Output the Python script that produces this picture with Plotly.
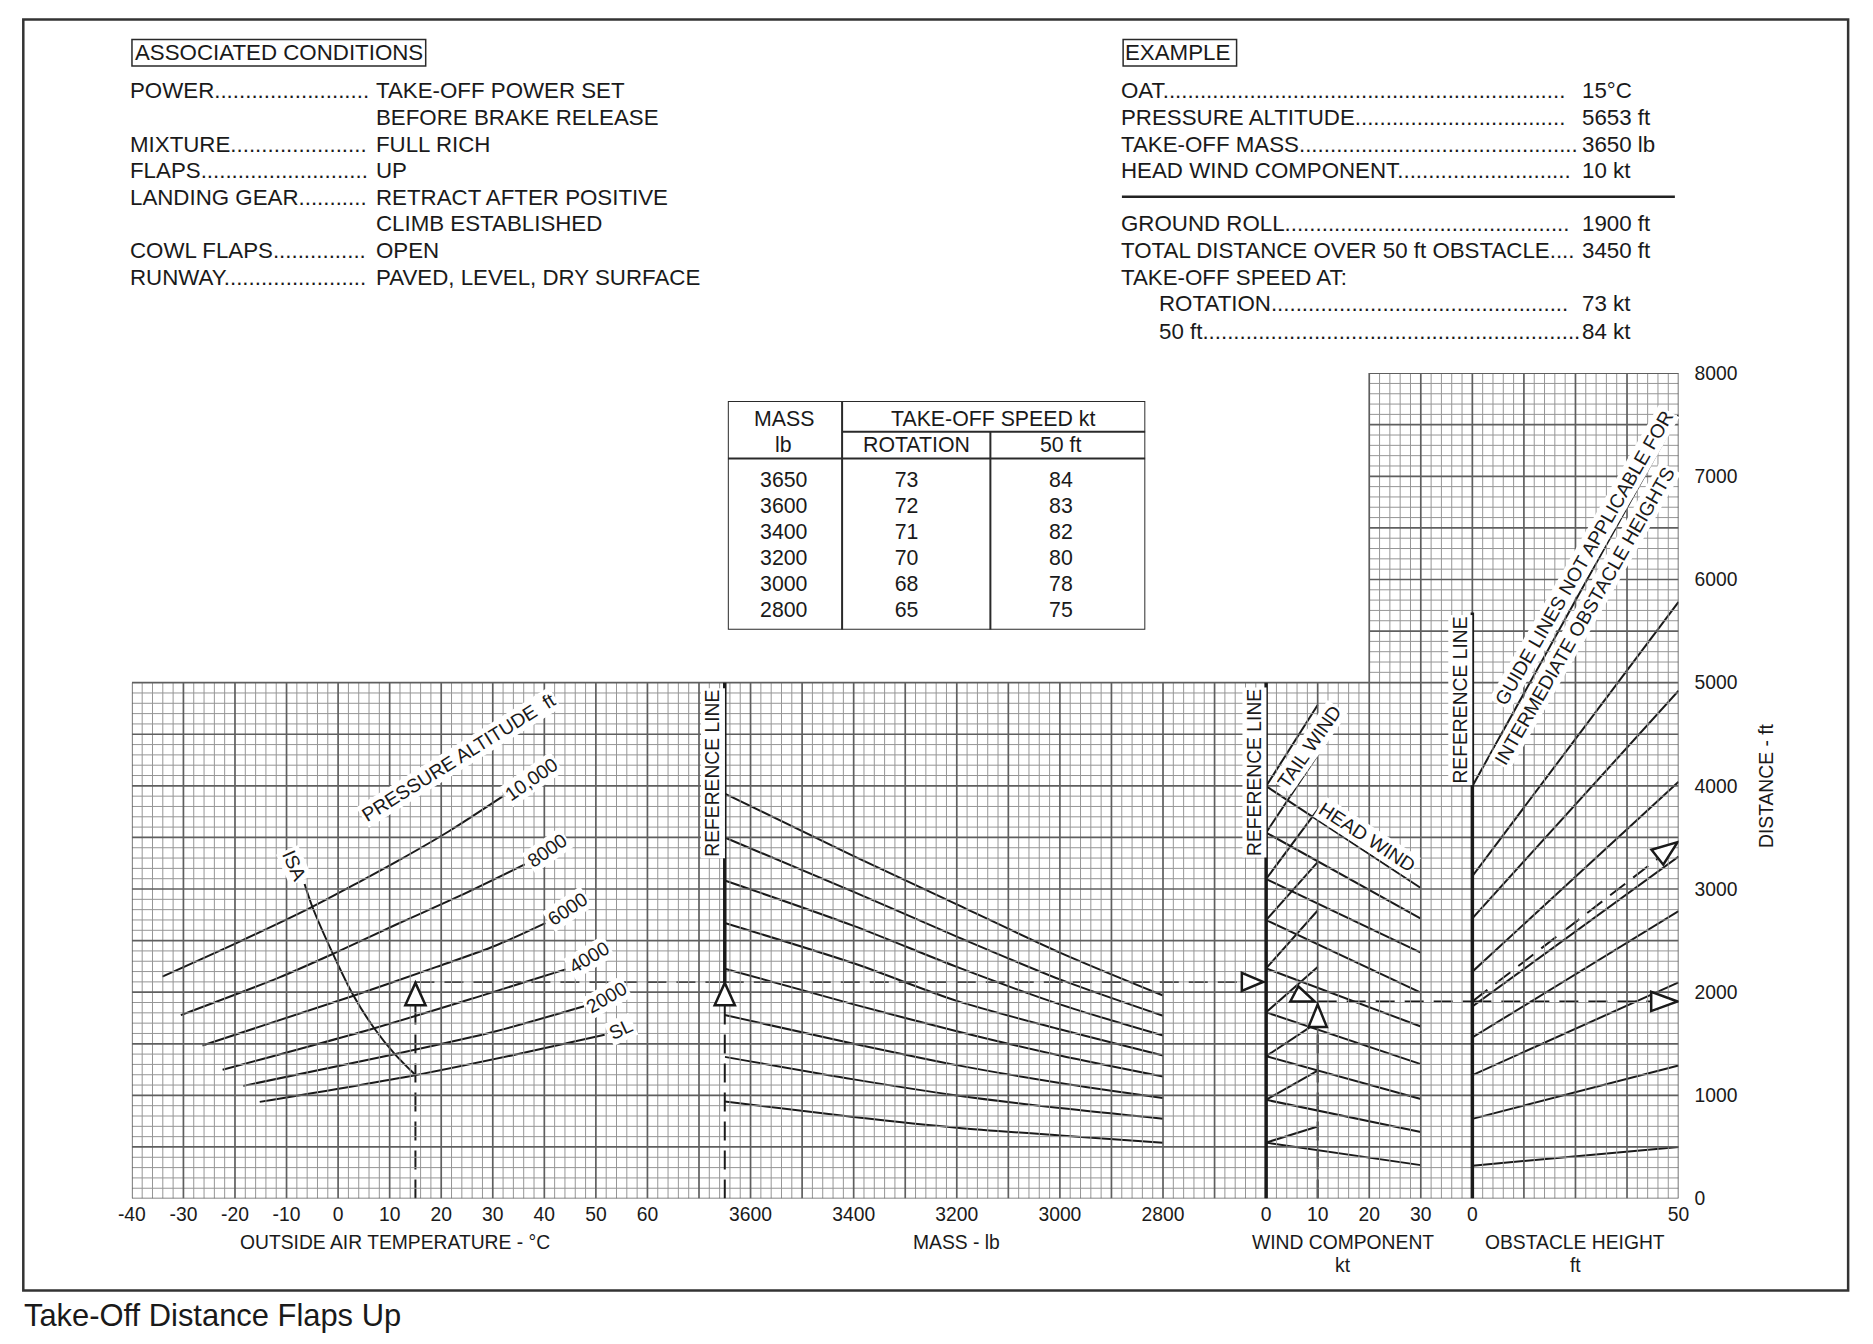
import plotly.graph_objects as go

# ======================= DATA =======================
# Panel 1: outside air temperature (degC) -> distance (ft), pressure altitude curves
pa10000_t = [-34.1, -19.2, -5.4, 3.8, 11.5, 21.5, 32.0]
pa10000_d = [2151, 2488, 2817, 3060, 3270, 3560, 3900]
pa8000_t = [-30.5, -11.5, -1.2, 11.5, 23.8, 36.2]
pa8000_d = [1778, 2141, 2367, 2661, 2938, 3239]
pa6000_t = [-26.3, 2.7, 19.1, 30.6, 40.2]
pa6000_d = [1483, 1961, 2245, 2453, 2670]
pa4000_t = [-22.4, 6.7, 26.8, 44.1]
pa4000_d = [1248, 1646, 1950, 2221]
pa2000_t = [-18.4, 10.7, 30.6, 47.7]
pa2000_d = [1092, 1397, 1622, 1864]
pasl_t = [-15.2, 14.9, 34.5, 51.7]
pasl_d = [937, 1196, 1397, 1587]
pa_names = ["10,000", "8000", "6000", "4000", "2000", "SL"]
isa_t = [-6.5, -5, -1, 3, 7, 11, 15]
isa_d = [3048, 2828, 2372, 1966, 1651, 1400, 1197]

# Panel 2: mass (lb) guide lines
mass_pts = [3650, 3400, 3200, 3000, 2800]
mass_g1 = [3924, 3319, 2851, 2384, 1968]
mass_g2 = [3499, 2973, 2539, 2124, 1771]
mass_g3 = [3083, 2643, 2245, 1882, 1580]
mass_g4 = [2671, 2280, 1916, 1640, 1386]
mass_g5 = [2228, 1882, 1622, 1386, 1182]
mass_g6 = [1778, 1501, 1293, 1120, 974]
mass_g7 = [1373, 1155, 999, 877, 774]
mass_g8 = [940, 791, 687, 611, 542]

# Panel 3: wind component (kt) guide lines
wind_start = [3997, 3547, 3097, 2699, 2231, 1805, 1380, 957, 542]
head_at30 = [3010, 2713, 2384, 1996, 1667, 1303, 964, 646, 324]
tail_at10 = [4784, 4299, 3770, 3260, 2792, 2245, 1710, 1241, 698]

# Panel 4: obstacle height (ft) guide lines
obs_start = [3996, 3125, 2716, 2199, 1861, 1561, 1196, 772, 319]
obs_at50 = [7597, 5783, 4922, 4040, 3315, 2787, 2095, 1289, 499]
obs_ref_top = 5680

# Worked example
ex_oat = 15
ex_dist_after_temp = 2100
ex_mass = 3650
ex_wind = 10
ex_ground_roll = 1910
ex_obstacle = 50
ex_total = 3450

# Axis ticks
temp_ticks = [-40, -30, -20, -10, 0, 10, 20, 30, 40, 50, 60]
temp_ticktext = ["-40", "-30", "-20", "-10", "0", "10", "20", "30", "40", "50", "60"]
mass_ticks = [3600, 3400, 3200, 3000, 2800]
wind_ticks = [0, 10, 20, 30]
obs_ticks = [0, 50]
dist_ticks = [0, 1000, 2000, 3000, 4000, 5000, 6000, 7000, 8000]

# Speed table
tbl_mass = ["3650", "3600", "3400", "3200", "3000", "2800"]
tbl_rot = ["73", "72", "71", "70", "68", "65"]
tbl_50 = ["84", "83", "82", "80", "78", "75"]

# Text blocks
cond_labels = ["POWER", "", "MIXTURE", "FLAPS", "LANDING GEAR", "", "COWL FLAPS", "RUNWAY"]
cond_dots = [25, 0, 22, 27, 11, 0, 15, 23]
cond_values = ["TAKE-OFF POWER SET", "BEFORE BRAKE RELEASE", "FULL RICH", "UP",
               "RETRACT AFTER POSITIVE", "CLIMB ESTABLISHED", "OPEN", "PAVED, LEVEL, DRY SURFACE"]
ex_labels = ["OAT", "PRESSURE ALTITUDE", "TAKE-OFF MASS", "HEAD WIND COMPONENT"]
ex_dots = [65, 34, 45, 28]
ex_values = ["15°C", "5653 ft", "3650 lb", "10 kt"]
res_labels = ["GROUND ROLL", "TOTAL DISTANCE OVER 50 ft OBSTACLE", "TAKE-OFF SPEED AT:", "ROTATION", "50 ft"]
res_dots = [46, 4, 0, 48, 61]
res_values = ["1900 ft", "3450 ft", "", "73 kt", "84 kt"]

# ======================= LAYOUT GEOMETRY =======================
W, H = 1873, 1344
# page -> photograph mapping observed for this renderer (image = B + S * page)
SX, BX = 0.9869, 13.4
SY, BY = 0.9840, 9.9
K = 1 / 0.986                    # size compensation for fonts / pixel shapes
FONT = "Liberation Sans, Arial, Helvetica, sans-serif"
INK = "#1a1a1a"
GX0, GM, GY0 = 131.3, 51.57, 1198.0          # grid left, major cell, grid bottom (target px)
SPAN_T, SPAN_M, SPAN_W, SPAN_O = 11.5, 10.5, 4, 4   # panel widths in major cells


def fx(px):
    return ((px - BX) / SX) / W


def fy(py):
    return 1 - ((py - BY) / SY) / H


def fs(size):
    return round(size * K, 1)


x_temp = (GX0, GX0 + SPAN_T * GM)
x_mass = (x_temp[1], x_temp[1] + SPAN_M * GM)
x_wind = (x_mass[1], x_mass[1] + SPAN_W * GM)
x_obst = (x_wind[1], x_wind[1] + SPAN_O * GM)
# panel edges on the whole-grid axis (minor units, 5 per major cell)
EDGE_MASS = SPAN_T * 5
EDGE_WIND = (SPAN_T + SPAN_M) * 5
EDGE_OBST = (SPAN_T + SPAN_M + SPAN_W) * 5
GRID_N = int((SPAN_T + SPAN_M + SPAN_W + SPAN_O) * 5)
UPPER_FROM = int(EDGE_WIND + 10)

fig = go.Figure()


# ---- grid (minor units across, 100 ft vertically) ----
def grid_segments(major):
    xs, ys = [], []
    for i in range(GRID_N + 1):
        if (i % 5 == 0) != major:
            continue
        top = 8000 if i >= UPPER_FROM else 5000
        xs += [i, i, None]
        ys += [0, top, None]
    for j in range(81):
        if (j % 5 == 0) != major:
            continue
        d = j * 100
        x0 = 0 if d <= 5000 else UPPER_FROM
        xs += [x0, GRID_N, None]
        ys += [d, d, None]
    return xs, ys


gx, gy = grid_segments(False)
fig.add_trace(go.Scatter(x=gx, y=gy, xaxis="x5", yaxis="y", mode="lines",
                         line=dict(color="#969696", width=1), hoverinfo="skip"))
gx, gy = grid_segments(True)
fig.add_trace(go.Scatter(x=gx, y=gy, xaxis="x5", yaxis="y", mode="lines",
                         line=dict(color="#5f5f5f", width=1.7), hoverinfo="skip"))

curve = dict(color=INK, width=2)
dash = dict(color=INK, width=2, dash="19px,10px")
ref = dict(color=INK, width=3.5)


def line(x, y, xa, ya="y", style=curve, spline=False):
    ln = dict(style)
    if spline:
        ln["shape"] = "spline"
        ln["smoothing"] = 0.8
    fig.add_trace(go.Scatter(x=x, y=y, xaxis=xa, yaxis=ya, mode="lines",
                             line=ln, hoverinfo="skip"))


# ---- panel 1 ----
for t, d in [(pa10000_t, pa10000_d), (pa8000_t, pa8000_d), (pa6000_t, pa6000_d),
             (pa4000_t, pa4000_d), (pa2000_t, pa2000_d), (pasl_t, pasl_d)]:
    line(t, d, "x", spline=True)
line(isa_t, isa_d, "x", spline=True)

# ---- panel 2 ----
for g in [mass_g1, mass_g2, mass_g3, mass_g4, mass_g5, mass_g6, mass_g7, mass_g8]:
    line(mass_pts, g, "x2", spline=True)

# ---- panel 3 ----
for s, h, t in zip(wind_start, head_at30, tail_at10):
    line([0, 30], [s, h], "x3")
    line([0, 10], [s, t], "x3")

# ---- panel 4 ----
for s, e in zip(obs_start, obs_at50):
    line([0, 50], [s, e], "x4")

# ---- example path (dashed) ----
line([ex_oat, ex_oat], [0, ex_dist_after_temp], "x", style=dash)
line([ex_oat, 75], [ex_dist_after_temp, ex_dist_after_temp], "x", style=dash)
line([EDGE_MASS, EDGE_MASS], [0, ex_dist_after_temp], "x5", style=dash)
line([3650, 2600], [ex_dist_after_temp, ex_dist_after_temp], "x2", style=dash)
line([ex_wind, ex_wind], [0, ex_ground_roll], "x3", style=dash)
line([ex_wind, 40], [ex_ground_roll, ex_ground_roll], "x3", style=dash)
line([0, ex_obstacle], [ex_ground_roll, ex_ground_roll], "x4", style=dash)
line([0, ex_obstacle], [ex_ground_roll, ex_total], "x4", style=dash)

# ---- reference lines (panel edges, on the whole-grid axis) ----
line([EDGE_MASS, EDGE_MASS], [ex_dist_after_temp, 5000], "x5", style=ref)
line([EDGE_WIND, EDGE_WIND], [0, 5000], "x5", style=ref)
line([EDGE_OBST, EDGE_OBST], [0, obs_ref_top], "x5", style=ref)

# ---- speed table text ----
tbl_rows = [3.115 + i for i in range(len(tbl_mass))]
for xc, col in [(0.134, tbl_mass), (0.428, tbl_rot), (0.798, tbl_50)]:
    fig.add_trace(go.Scatter(x=[xc] * len(col), y=tbl_rows, text=col, mode="text",
                             xaxis="x6", yaxis="y6", textposition="middle center",
                             textfont=dict(size=fs(21), color=INK, family=FONT), hoverinfo="skip"))

shapes = []
annotations = []


# arrows (pixel-sized triangles anchored at data points)
def tri(xref, xa, ya, pts):
    path = "M" + " L".join("%.1f,%.1f" % (px * K, py * K) for px, py in pts) + " Z"
    shapes.append(dict(type="path", xref=xref, yref="y", xsizemode="pixel", ysizemode="pixel",
                       xanchor=xa, yanchor=ya, path=path, fillcolor="white",
                       line=dict(color=INK, width=2.5), layer="above"))


tri("x", ex_oat, ex_dist_after_temp, [(0, -1), (-10, -23), (10, -23)])
tri("x5", EDGE_MASS, ex_dist_after_temp, [(0, -1), (-10, -23), (10, -23)])
tri("x5", EDGE_WIND, ex_dist_after_temp, [(-3, 0), (-24, 9), (-24, -9)])
tri("x3", ex_wind, ex_ground_roll, [(-27, 0), (-19, 15), (-3, 0)])
tri("x3", ex_wind, ex_ground_roll, [(0, -3), (-9, -25), (9, -25)])
tri("x4", ex_obstacle, ex_ground_roll, [(-1, 0), (-27, 9.5), (-27, -9.5)])
tri("x4", ex_obstacle, ex_total, [(-1, 0.5), (-26.7, -7.1), (-15.1, -21.8)])

# table borders
tbl_cols = [0, 0.2737, 0.6289, 1]
tb = dict(color="#2a2a2a", width=2)
shapes.append(dict(type="rect", xref="x6", yref="y6", x0=0, x1=1, y0=0, y1=8.8, line=tb))
shapes.append(dict(type="line", xref="x6", yref="y6", x0=tbl_cols[1], x1=tbl_cols[1], y0=0, y1=8.8, line=tb))
shapes.append(dict(type="line", xref="x6", yref="y6", x0=tbl_cols[2], x1=tbl_cols[2], y0=1.185, y1=8.8, line=tb))
shapes.append(dict(type="line", xref="x6", yref="y6", x0=tbl_cols[1], x1=1, y0=1.185, y1=1.185, line=tb))
shapes.append(dict(type="line", xref="x6", yref="y6", x0=0, x1=1, y0=2.215, y1=2.215, line=tb))
for txt, xc, yc in [("MASS", 0.134, 0.70), ("lb", 0.134, 1.70), ("TAKE-OFF SPEED kt", 0.634, 0.70),
                    ("ROTATION", 0.451, 1.70), ("50 ft", 0.798, 1.70)]:
    annotations.append(dict(text=txt, x=xc, y=yc, xref="x6", yref="y6", showarrow=False,
                            xanchor="center", yanchor="middle", font=dict(size=fs(21), color=INK)))

# outer border and separators
shapes.append(dict(type="rect", xref="paper", yref="paper", x0=fx(22.7), x1=fx(1848), y0=fy(1290), y1=fy(19.5),
                   line=dict(color="#333333", width=2.5)))
shapes.append(dict(type="rect", xref="paper", yref="paper", x0=fx(131.4), x1=fx(425.2), y0=fy(66), y1=fy(39.4),
                   line=dict(color="#2a2a2a", width=1.5)))
shapes.append(dict(type="rect", xref="paper", yref="paper", x0=fx(1122.8), x1=fx(1236.3), y0=fy(66), y1=fy(39.4),
                   line=dict(color="#2a2a2a", width=1.5)))
shapes.append(dict(type="line", xref="paper", yref="paper", x0=fx(1121.6), x1=fx(1674.7), y0=fy(196.5), y1=fy(196.5),
                   line=dict(color="#222", width=2.5)))


def pann(text, px, py, size=22, xanchor="left", yanchor="middle"):
    annotations.append(dict(text=text, x=fx(px), y=fy(py), xref="paper", yref="paper", showarrow=False,
                            xanchor=xanchor, yanchor=yanchor, font=dict(size=fs(size), color=INK)))


TXT_PAD = 2.5   # annotation inner padding, removed from left-anchored text positions
pann("ASSOCIATED CONDITIONS", 134.5 - TXT_PAD, 52.5)
pann("EXAMPLE", 1125.5 - TXT_PAD, 52.5)
row_y = [90.8, 117.1, 144.5, 170.8, 197.1, 223.4, 250.8, 277.1]
for lab, nd, val, yy in zip(cond_labels, cond_dots, cond_values, row_y):
    if lab:
        pann(lab + "." * nd, 130.2 - TXT_PAD, yy)
    pann(val, 376.3 - TXT_PAD, yy)
for lab, nd, val, yy in zip(ex_labels, ex_dots, ex_values, row_y[:4]):
    pann(lab + "." * nd, 1121.6 - TXT_PAD, yy)
    pann(val, 1582.0 - TXT_PAD, yy)
res_y = [223.4, 250.8, 277.1, 303.4, 330.9]
res_x = [1121.6, 1121.6, 1121.6, 1158.7, 1158.7]
for lab, nd, val, yy, xx in zip(res_labels, res_dots, res_values, res_y, res_x):
    pann(lab + "." * nd, xx - TXT_PAD, yy)
    if val:
        pann(val, 1582.0 - TXT_PAD, yy)

pann("Take-Off Distance Flaps Up", 23.9 - TXT_PAD, 1315, size=30.5)


def dann(text, xref, x, y, angle=0, size=19, bg="white", xshift=0, yshift=0):
    annotations.append(dict(text=text, x=x, y=y, xref=xref, yref="y", showarrow=False,
                            textangle=angle, xanchor="center", yanchor="middle",
                            font=dict(size=fs(size), color=INK), bgcolor=bg, borderpad=1,
                            xshift=xshift * K, yshift=yshift * K))


# curve labels (panel 1)
pa_lab_pos = [(37.5, 4062, -35), (40.6, 3370, -35), (44.4, 2806, -34), (48.7, 2332, -31),
              (52.1, 1951, -30), (54.8, 1640, -25)]
for name, (lx, ly, la) in zip(pa_names, pa_lab_pos):
    dann(name, "x", lx, ly, la)
dann("PRESSURE ALTITUDE\u00a0\u00a0ft", "x", 23.4, 4271, -32)
dann("ISA", "x", -8.5, 3232, 66)

# reference line labels
dann("REFERENCE LINE", "x5", EDGE_MASS, 4123, -90, xshift=-12)
dann("REFERENCE LINE", "x5", EDGE_WIND, 4134, -90, xshift=-12)
dann("REFERENCE LINE", "x5", EDGE_OBST, 4828, -90, xshift=-12)
dann("TAIL WIND", "x3", 8.5, 4379, -55)
dann("HEAD WIND", "x3", 19.65, 3502, 33)
dann("GUIDE LINES NOT APPLICABLE FOR", "x4", 27.0, 6207, -60)
dann("INTERMEDIATE OBSTACLE HEIGHTS", "x4", 27.4, 5647, -60)
dann("DISTANCE - ft", "paper", fx(1767), 4000, -90, bg=None)

# axis titles (second lines placed separately)
for text, xr, xv, yy in [("OUTSIDE AIR TEMPERATURE - °C", "x", 11, 1242), ("MASS - lb", "x2", 3200, 1242),
                         ("WIND COMPONENT", "x3", 15, 1242), ("kt", "x3", 15, 1265),
                         ("OBSTACLE HEIGHT", "x4", 25, 1242), ("ft", "x4", 25, 1265)]:
    annotations.append(dict(text=text, x=xv, y=fy(yy), xref=xr, yref="paper", showarrow=False,
                            xanchor="center", yanchor="middle", font=dict(size=fs(19), color=INK)))

tick_common = dict(showgrid=False, zeroline=False, showline=False, ticks="",
                   tickfont=dict(size=fs(19), color=INK), fixedrange=True)
xtick = dict(tick_common, ticklabelstandoff=2)

fig.update_layout(
    width=W, height=H, margin=dict(l=0, r=0, t=0, b=0), autosize=False,
    paper_bgcolor="white", plot_bgcolor="rgba(0,0,0,0)", showlegend=False,
    font=dict(family=FONT, color=INK),
    xaxis=dict(domain=[fx(x_temp[0]), fx(x_temp[1])], range=[-40, 75], anchor="y",
               tickmode="array", tickvals=temp_ticks, ticktext=temp_ticktext, **xtick),
    xaxis2=dict(domain=[fx(x_mass[0]), fx(x_mass[1])], range=[3650, 2600], anchor="y",
                tickmode="array", tickvals=mass_ticks, **xtick),
    xaxis3=dict(domain=[fx(x_wind[0]), fx(x_wind[1])], range=[0, 40], anchor="y",
                tickmode="array", tickvals=wind_ticks, **xtick),
    xaxis4=dict(domain=[fx(x_obst[0]), fx(x_obst[1])], range=[0, 50], anchor="y",
                tickmode="array", tickvals=obs_ticks, **xtick),
    xaxis5=dict(domain=[fx(x_temp[0]), fx(x_obst[1])], range=[0, GRID_N], anchor="y", visible=False,
                fixedrange=True),
    yaxis=dict(domain=[fy(GY0), fy(GY0 - 16 * GM)], range=[0, 8000], anchor="x4", side="right",
               tickmode="array", tickvals=dist_ticks, ticklabelstandoff=15, **tick_common),
    xaxis6=dict(domain=[fx(727.4), fx(1145)], range=[0, 1], anchor="y6", visible=False, fixedrange=True),
    yaxis6=dict(domain=[fy(629.4), fy(400.7)], range=[8.8, 0], anchor="x6", visible=False, fixedrange=True),
    shapes=shapes, annotations=annotations,
)

fig.write_html("out.html", config={"displayModeBar": False},
               post_script="document.body.style.margin='0';document.body.style.overflow='hidden';")
